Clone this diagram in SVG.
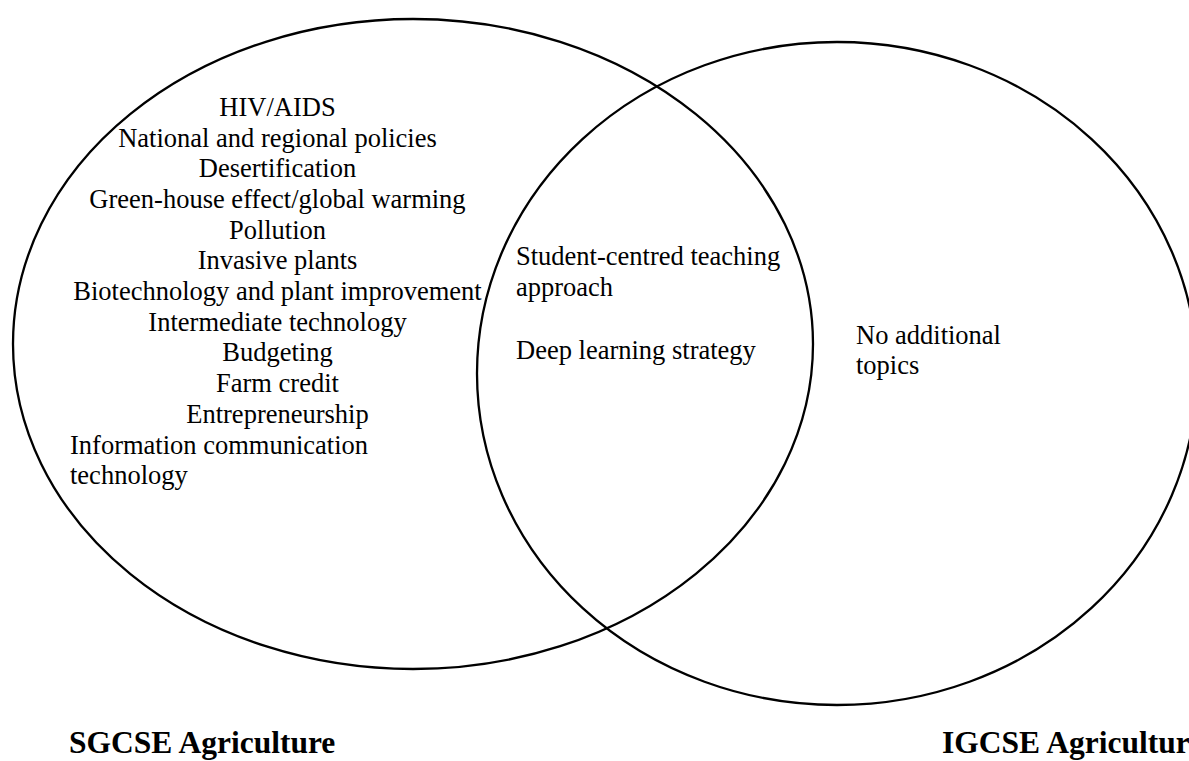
<svg xmlns="http://www.w3.org/2000/svg" width="1189" height="761" viewBox="0 0 1189 761">
<style>
.c{fill:none;stroke:#000;stroke-width:2.3}
.t{font-family:"Liberation Serif","Times New Roman",serif;font-size:26.5px;fill:#000}
.m{text-anchor:middle}
.b{font-family:"Liberation Serif","Times New Roman",serif;font-size:31.5px;font-weight:bold;fill:#000}
</style>
<rect width="1189" height="761" fill="#fff"/>
<g id="sgcse">
<ellipse class="c" cx="413" cy="344" rx="400" ry="325"/>
<text class="t m" x="277.5" y="116">HIV/AIDS</text>
<text class="t m" x="277.5" y="146.7">National and regional policies</text>
<text class="t m" x="277.5" y="177.3">Desertification</text>
<text class="t m" x="277.5" y="208">Green-house effect/global warming</text>
<text class="t m" x="277.5" y="238.7">Pollution</text>
<text class="t m" x="277.5" y="269.4">Invasive plants</text>
<text class="t m" x="277.5" y="300">Biotechnology and plant improvement</text>
<text class="t m" x="277.5" y="330.7">Intermediate technology</text>
<text class="t m" x="277.5" y="361.4">Budgeting</text>
<text class="t m" x="277.5" y="392">Farm credit</text>
<text class="t m" x="277.5" y="422.8">Entrepreneurship</text>
<text class="t" x="70" y="453.5">Information communication</text>
<text class="t" x="70" y="484">technology</text>
<text class="b" x="69" y="753">SGCSE Agriculture</text>
</g>
<g id="igcse">
<ellipse class="c" cx="837" cy="373.5" rx="360" ry="331.5"/>
<text class="t" x="856" y="343.5">No additional</text>
<text class="t" x="856" y="374">topics</text>
<text class="b" x="942" y="753">IGCSE Agriculture</text>
</g>
<g id="common">
<text class="t" x="516" y="265">Student-centred teaching</text>
<text class="t" x="516" y="295.5">approach</text>
<text class="t" x="516" y="358.5">Deep learning strategy</text>
</g>
<g id="connectors"></g>
</svg>
